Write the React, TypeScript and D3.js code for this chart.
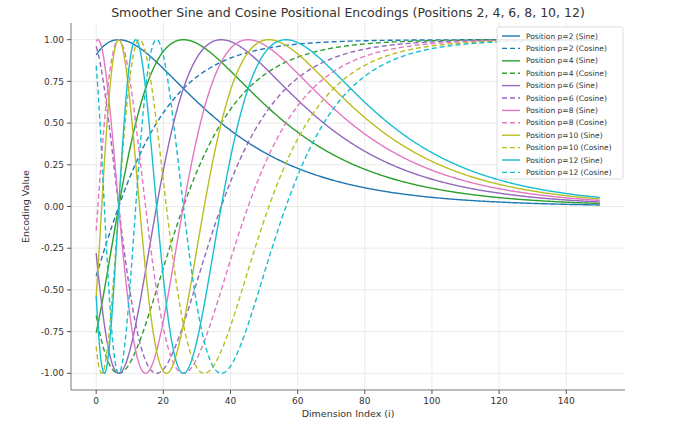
import * as d3 from "d3";
import * as React from "react";

const W = 686;
const H = 425;
const MARGIN = { top: 23, right: 61, bottom: 35, left: 71 };

// positions plotted and the colour used for each pair
const positions = [2, 4, 6, 8, 10, 12];
const colors = ["#1f77b4", "#2ca02c", "#9467bd", "#e377c2", "#bcbd22", "#17becf"];
const yTicks = [-1, -0.75, -0.5, -0.25, 0, 0.25, 0.5, 0.75, 1];
const xTicks = [0, 20, 40, 60, 80, 100, 120, 140];
const MODEL_DIM = 256;
const MAX_INDEX = 150;

const dims = d3.range(0, MAX_INDEX + 0.001, 0.25);

export default function App() {
  const boundsW = W - MARGIN.left - MARGIN.right;
  const boundsH = H - MARGIN.top - MARGIN.bottom;
  const x = d3.scaleLinear().domain([-7.5, 157.5]).range([0, boundsW]);
  const y = d3.scaleLinear().domain([-1.1, 1.1]).range([boundsH, 0]);
  const line = d3
    .line<[number, number]>()
    .x((d) => x(d[0]))
    .y((d) => y(d[1]));

  const series = positions.flatMap((p, k) => {
    const freq = (i: number) => p / Math.pow(10000, i / MODEL_DIM);
    return [
      { label: `Position p=${p} (Sine)`, color: colors[k], dash: "", pts: dims.map((i) => [i, Math.sin(freq(i))] as [number, number]) },
      { label: `Position p=${p} (Cosine)`, color: colors[k], dash: "5,3", pts: dims.map((i) => [i, Math.cos(freq(i))] as [number, number]) },
    ];
  });

  const font = "DejaVu Sans, sans-serif";
  return (
    <svg width={W} height={H} style={{ position: "absolute", left: 0, top: 0 }} fontFamily={font}>
      <rect width={W} height={H} fill="#fff" />
      <text x={MARGIN.left + boundsW / 2} y={17} textAnchor="middle" fontSize={12.5} fill="#333">
        Smoother Sine and Cosine Positional Encodings (Positions 2, 4, 6, 8, 10, 12)
      </text>
      <g transform={`translate(${MARGIN.left},${MARGIN.top})`}>
        {xTicks.map((t) => (
          <g key={"x" + t}>
            <line x1={x(t)} x2={x(t)} y1={0} y2={boundsH} stroke="#ddd" strokeWidth={0.6} />
            <line x1={x(t)} x2={x(t)} y1={boundsH} y2={boundsH + 4} stroke="#555" />
            <text x={x(t)} y={boundsH + 14} textAnchor="middle" fontSize={9} fill="#333">{t}</text>
          </g>
        ))}
        {yTicks.map((t) => (
          <g key={"y" + t}>
            <line x1={0} x2={boundsW} y1={y(t)} y2={y(t)} stroke="#ddd" strokeWidth={0.6} />
            <line x1={-4} x2={0} y1={y(t)} y2={y(t)} stroke="#555" />
            <text x={-7} y={y(t)} dy="0.35em" textAnchor="end" fontSize={9} fill="#333">{t.toFixed(2)}</text>
          </g>
        ))}
        {series.map((s, i) => (
          <path key={i} d={line(s.pts) || ""} fill="none" stroke={s.color} strokeWidth={1.4} strokeDasharray={s.dash} />
        ))}
        <line x1={0} x2={0} y1={0} y2={boundsH} stroke="#555" strokeWidth={0.8} />
        <line x1={0} x2={boundsW} y1={boundsH} y2={boundsH} stroke="#555" strokeWidth={0.8} />
        <text x={boundsW / 2} y={boundsH + 27} textAnchor="middle" fontSize={9.5} fill="#333">Dimension Index (i)</text>
        <text transform={`translate(-42,${boundsH / 2}) rotate(-90)`} textAnchor="middle" fontSize={9.5} fill="#333">Encoding Value</text>
        <g transform={`translate(${boundsW - 128},4)`}>
          <rect width={126} height={152} fill="#fff" fillOpacity={0.85} stroke="#ddd" rx={2} />
          {series.map((s, i) => (
            <g key={i} transform={`translate(5,${9 + i * 12.4})`}>
              <line x1={0} x2={18} y1={0} y2={0} stroke={s.color} strokeWidth={1.4} strokeDasharray={s.dash} />
              <text x={24} y={0} dy="0.35em" fontSize={7.5} fill="#333">{s.label}</text>
            </g>
          ))}
        </g>
      </g>
    </svg>
  );
}
